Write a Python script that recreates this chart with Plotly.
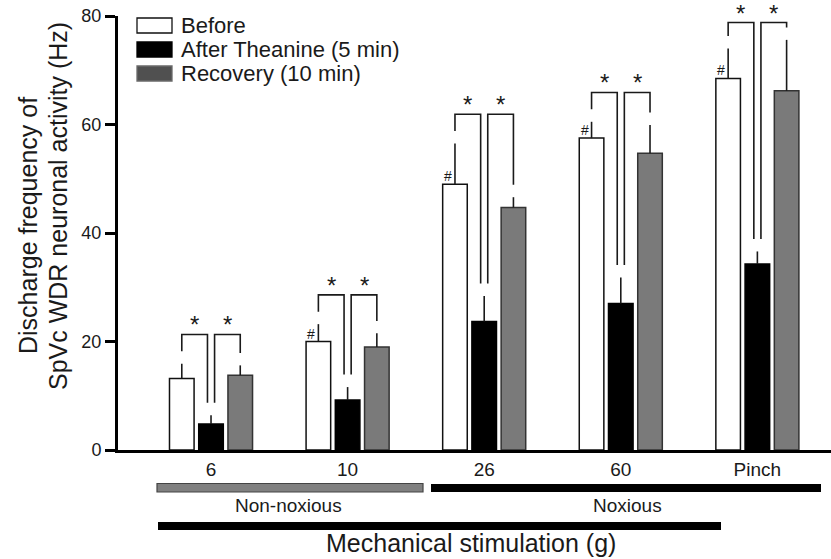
import plotly.graph_objects as go

# ---------------- data ----------------
categories = ["6", "10", "26", "60", "Pinch"]
before = [13.2, 20.0, 49.0, 57.5, 68.5]
before_se = [2.7, 3.2, 7.5, 3.0, 5.5]
after = [4.8, 9.2, 23.7, 27.0, 34.3]
after_se = [1.6, 2.4, 4.7, 4.8, 2.3]
recovery = [13.8, 19.0, 44.7, 54.7, 66.2]
recovery_se = [1.8, 2.5, 1.9, 5.2, 9.4]
series_names = ["Before", "After Theanine (5 min)", "Recovery (10 min)"]
y_ticks = [0, 20, 40, 60, 80]
y_title_lines = ["Discharge frequency of", "SpVc WDR neuronal activity (Hz)"]

# ---------------- geometry / style ----------------
W, H = 831, 559
PLOT_L, PLOT_R, PLOT_T, PLOT_B = 118, 831, 16, 450   # page pixels of plot area
ML, MT, MR, MB = PLOT_L, PLOT_T, W - PLOT_R, H - PLOT_B
PW, PH = PLOT_R - PLOT_L, PLOT_B - PLOT_T
OFF = 0.214      # bar pitch inside a group (x units)
BW = 0.18        # bar width (x units)
XR = [-0.681, 4.539]
TXT = "#1a1a1a"
FONT = "Liberation Sans, Arial, sans-serif"
GRAY_BAR = "#7a7a7a"
GRAY_LEG = "#505050"

def px_x(px):
    return (px - PLOT_L) / PW

def px_y(py):
    return (PLOT_B - py) / PH

xs = list(range(len(categories)))
x_before = [i - OFF for i in xs]
x_after = list(xs)
x_rec = [i + OFF for i in xs]

fig = go.Figure()

def add_bar(x, y, se, fill, line):
    fig.add_trace(go.Bar(
        x=x, y=y, width=BW, showlegend=False,
        marker=dict(color=fill, line=dict(color=line, width=1.5)),
        error_y=dict(type="data", symmetric=False, array=se,
                     arrayminus=[0] * len(se), color=TXT, thickness=1.6, width=0),
    ))

add_bar(x_before, before, before_se, "white", "#111111")
add_bar(x_after, after, after_se, "black", "black")
add_bar(x_rec, recovery, recovery_se, GRAY_BAR, "#333333")

shapes = []
annotations = []

# ---------------- significance brackets ----------------
GAP = 2.3          # gap between error-bar top and bracket leg (y units)
LEG_DX = 0.026     # half spacing of the two legs above the middle bar
for i in xs:
    tb = before[i] + before_se[i]
    ta = after[i] + after_se[i]
    tr = recovery[i] + recovery_se[i]
    top = min(max(tb, ta, tr) + 5.4, 78.8)
    # left bracket: Before -> After
    xa, xb = x_before[i], x_after[i] - LEG_DX
    shapes.append(dict(type="path", xref="x", yref="y",
                       path=f"M {xa},{tb + GAP} L {xa},{top} L {xb},{top} L {xb},{ta + GAP}",
                       line=dict(color=TXT, width=1.6)))
    annotations.append(dict(x=(xa + xb) / 2, y=top, xref="x", yref="y", text="*",
                            showarrow=False, yanchor="bottom", yshift=-6,
                            font=dict(size=24, color=TXT, family=FONT)))
    # right bracket: After -> Recovery
    xc, xd = x_after[i] + LEG_DX, x_rec[i]
    shapes.append(dict(type="path", xref="x", yref="y",
                       path=f"M {xc},{ta + GAP} L {xc},{top} L {xd},{top} L {xd},{tr + GAP}",
                       line=dict(color=TXT, width=1.6)))
    annotations.append(dict(x=(xc + xd) / 2, y=top, xref="x", yref="y", text="*",
                            showarrow=False, yanchor="bottom", yshift=-6,
                            font=dict(size=24, color=TXT, family=FONT)))
    # '#' marks on the Before bars (except 6 g)
    if i > 0:
        annotations.append(dict(x=x_before[i], y=before[i], xref="x", yref="y", text="#",
                                showarrow=False, yanchor="middle", xshift=-7, yshift=8,
                                font=dict(size=14, color=TXT, family=FONT)))

# ---------------- custom legend ----------------
leg_rows = [(18, 33, "white", "#111111"), (42, 57, "black", "black"), (66, 81, GRAY_LEG, "#6a6a6a")]
for (y0, y1, fill, line), name in zip(leg_rows, series_names):
    shapes.append(dict(type="rect", xref="paper", yref="paper",
                       x0=px_x(137), x1=px_x(172), y0=px_y(y1), y1=px_y(y0),
                       fillcolor=fill, line=dict(color=line, width=1.3)))
    annotations.append(dict(x=px_x(179), y=px_y((y0 + y1) / 2), xref="paper", yref="paper",
                            text=name, showarrow=False, xanchor="left", yanchor="middle",
                            font=dict(size=22, color=TXT, family=FONT)))

# ---------------- stimulus class bars below the axis ----------------
shapes.append(dict(type="rect", xref="paper", yref="paper",
                   x0=px_x(157), x1=px_x(423), y0=px_y(492), y1=px_y(483.5),
                   fillcolor="#808080", line=dict(color="#444444", width=1.2)))
shapes.append(dict(type="rect", xref="paper", yref="paper",
                   x0=px_x(431), x1=px_x(821), y0=px_y(492), y1=px_y(484),
                   fillcolor="black", line=dict(color="black", width=0)))
shapes.append(dict(type="rect", xref="paper", yref="paper",
                   x0=px_x(158), x1=px_x(721), y0=px_y(530), y1=px_y(522),
                   fillcolor="black", line=dict(color="black", width=0)))
annotations.append(dict(x=px_x(288), y=px_y(506), xref="paper", yref="paper",
                        text="Non-noxious", showarrow=False, xanchor="center", yanchor="middle",
                        font=dict(size=19, color=TXT, family=FONT)))
annotations.append(dict(x=px_x(627), y=px_y(506), xref="paper", yref="paper",
                        text="Noxious", showarrow=False, xanchor="center", yanchor="middle",
                        font=dict(size=19, color=TXT, family=FONT)))
annotations.append(dict(x=px_x(471), y=px_y(543), xref="paper", yref="paper",
                        text="Mechanical stimulation (g)", showarrow=False,
                        xanchor="center", yanchor="middle",
                        font=dict(size=25, color=TXT, family=FONT)))
# y-axis title (two rotated lines)
for line_text, cx, cy in zip(y_title_lines, [28, 58], [226, 206]):
    annotations.append(dict(x=px_x(cx), y=px_y(cy), xref="paper", yref="paper",
                            text=line_text, showarrow=False, textangle=-90,
                            xanchor="center", yanchor="middle",
                            font=dict(size=25, color=TXT, family=FONT)))

fig.update_layout(
    width=W, height=H,
    margin=dict(l=ML, r=MR, t=MT, b=MB, pad=0),
    plot_bgcolor="white", paper_bgcolor="white",
    font=dict(family=FONT, color=TXT),
    shapes=shapes, annotations=annotations,
    showlegend=False,
)
fig.update_xaxes(range=XR, tickvals=xs, ticktext=categories, showline=True,
                 linecolor="black", linewidth=3, ticks="", showgrid=False, zeroline=False,
                 tickfont=dict(size=19, color=TXT, family=FONT))
fig.update_yaxes(range=[0, 80], tickvals=y_ticks, showline=True, linecolor="black",
                 linewidth=3, ticks="outside", ticklen=10, tickwidth=3, tickcolor="black",
                 showgrid=False, zeroline=False,
                 tickfont=dict(size=18, color=TXT, family=FONT))

fig.write_html("out.html", config={"displayModeBar": False},
               post_script="document.body.style.margin='0';document.body.style.overflow='hidden';")
